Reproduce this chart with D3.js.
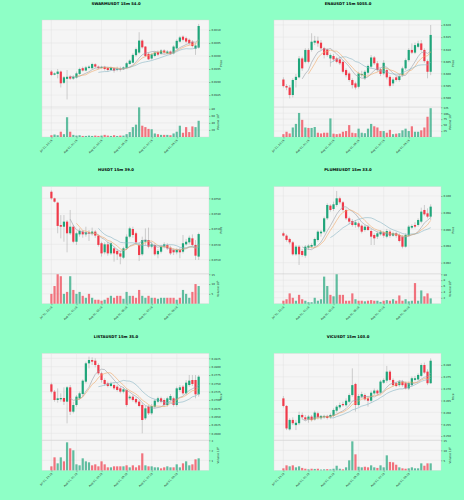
<!DOCTYPE html>
<html>
<head>
<meta charset="utf-8">
<script src="https://cdn.jsdelivr.net/npm/d3@7"></script>
<style>
body { margin: 0; background: #8effc6; }
svg { display: block; }
text { font-family: "DejaVu Sans", sans-serif; }
</style>
</head>
<body>
<script>
var titles = ["SWARMUSDT 15m 54.0", "ENAUSDT 15m 5055.0", "HUSDT 15m 39.0",
              "PLUMEUSDT 15m 33.0", "LISTAUSDT 15m 35.0", "VICUSDT 15m 103.0"];
var timeLabels = ["Jul 31, 23:15", "Aug 01, 01:15", "Aug 01, 03:15", "Aug 01, 05:15", "Aug 01, 07:15", "Aug 01, 09:15"];
var timeTickIndex = [0, 8, 16, 24, 32, 40];
var maPeriods = [7, 9, 16];

// candles: [open, high, low, close, volume]
var swarmCandles = [
[0.01940,0.01946,0.01923,0.01927,5],[0.01928,0.01937,0.01926,0.01933,7],[0.01931,0.01950,0.01914,0.01940,5],
[0.01940,0.01944,0.01879,0.01895,15],[0.01897,0.01923,0.01892,0.01918,8],[0.01912,0.01946,0.01833,0.01920,56],
[0.01921,0.01926,0.01908,0.01913,15],[0.01913,0.01926,0.01908,0.01920,6],[0.01917,0.01940,0.01913,0.01933,4],
[0.01931,0.01955,0.01927,0.01950,5],[0.01953,0.01959,0.01940,0.01944,3],[0.01944,0.01962,0.01941,0.01956,3],
[0.01954,0.01964,0.01950,0.01959,4],[0.01953,0.01974,0.01949,0.01969,3],[0.01968,0.01972,0.01954,0.01959,4],
[0.01959,0.01963,0.01949,0.01953,3],[0.01954,0.01962,0.01951,0.01958,4],[0.01958,0.01962,0.01944,0.01950,6],
[0.01954,0.01959,0.01940,0.01946,4],[0.01946,0.01959,0.01944,0.01955,3],[0.01953,0.01956,0.01936,0.01944,5],
[0.01946,0.01959,0.01941,0.01951,3],[0.01951,0.01959,0.01940,0.01947,4],[0.01949,0.01960,0.01946,0.01956,4],
[0.01954,0.01977,0.01951,0.01972,8],[0.01969,0.01987,0.01967,0.01982,14],[0.01974,0.02010,0.01972,0.02004,28],
[0.02003,0.02032,0.01997,0.02026,35],[0.02013,0.02091,0.02008,0.02059,84],[0.02059,0.02064,0.02028,0.02033,32],
[0.02036,0.02038,0.01995,0.02000,28],[0.02008,0.02013,0.01985,0.01987,23],[0.01990,0.02010,0.01986,0.02006,22],
[0.02000,0.02017,0.01995,0.02013,10],[0.02015,0.02021,0.01999,0.02005,8],[0.02008,0.02026,0.02004,0.02021,6],
[0.02021,0.02026,0.02008,0.02013,6],[0.02010,0.02023,0.02006,0.02017,6],[0.02017,0.02021,0.02004,0.02008,5],
[0.02010,0.02041,0.02006,0.02036,10],[0.02029,0.02064,0.02026,0.02058,15],[0.02055,0.02077,0.02051,0.02071,32],
[0.02074,0.02079,0.02056,0.02062,12],[0.02068,0.02074,0.02049,0.02055,28],[0.02062,0.02067,0.02042,0.02049,14],
[0.02055,0.02061,0.02033,0.02038,30],[0.02028,0.02051,0.02004,0.02040,28],[0.02032,0.02123,0.02028,0.02115,46]
];
var swarmPriceTicks = [0.0185, 0.0190, 0.0195, 0.0200, 0.0205, 0.0210];
var swarmPriceLimits = [0.01804, 0.02138];
var swarmVolumeTicks = [20, 40, 60, 80];
var swarmVolumeMax = 85;

var enaCandles = [
[0.5975,0.5984,0.5942,0.5948,12],[0.5948,0.5956,0.5931,0.5942,22],[0.5942,0.5952,0.5897,0.5911,15],
[0.5911,0.5980,0.5901,0.5973,40],[0.5973,0.5998,0.5942,0.5986,55],[0.5984,0.6072,0.5980,0.6062,101],
[0.6062,0.6069,0.6011,0.6021,72],[0.6048,0.6104,0.6042,0.6097,40],[0.6097,0.6104,0.6042,0.6048,38],
[0.6097,0.6166,0.6090,0.6131,38],[0.6127,0.6155,0.6117,0.6135,42],[0.6135,0.6152,0.6110,0.6124,18],
[0.6127,0.6138,0.6097,0.6104,15],[0.6104,0.6110,0.6062,0.6076,18],[0.6099,0.6104,0.6069,0.6076,18],
[0.6062,0.6083,0.6028,0.6076,78],[0.6072,0.6080,0.6048,0.6058,14],[0.6062,0.6069,0.6042,0.6048,12],
[0.6058,0.6066,0.6035,0.6042,14],[0.6048,0.6055,0.6000,0.6007,22],[0.6014,0.6021,0.5984,0.5993,25],
[0.6000,0.6007,0.5966,0.5973,50],[0.5973,0.5980,0.5938,0.5952,18],[0.5959,0.5966,0.5934,0.5942,16],
[0.5945,0.6007,0.5938,0.6000,35],[0.5993,0.6011,0.5986,0.5998,18],[0.5980,0.6014,0.5973,0.6007,16],
[0.6003,0.6037,0.5993,0.6031,35],[0.6028,0.6076,0.6021,0.6066,55],[0.6066,0.6072,0.6035,0.6042,45],
[0.6042,0.6051,0.6007,0.6014,40],[0.6017,0.6024,0.5989,0.5998,25],[0.6000,0.6055,0.5993,0.6044,25],
[0.6014,0.6021,0.5975,0.5984,18],[0.5986,0.5993,0.5942,0.5949,30],[0.5959,0.5984,0.5948,0.5975,12],
[0.5984,0.5989,0.5966,0.5973,14],[0.5973,0.5998,0.5966,0.5989,16],[0.5993,0.6028,0.5986,0.6021,28],
[0.6021,0.6062,0.6014,0.6055,35],[0.6055,0.6104,0.6048,0.6097,25],[0.6097,0.6124,0.6080,0.6086,45],
[0.6086,0.6127,0.6080,0.6117,22],[0.6110,0.6135,0.6104,0.6124,22],[0.6124,0.6138,0.6090,0.6097,28],
[0.6097,0.6104,0.6044,0.6051,40],[0.6051,0.6058,0.5980,0.6007,85],[0.6007,0.6200,0.5993,0.6159,121]
];
var enaPriceTicks = [0.590, 0.595, 0.600, 0.605, 0.610, 0.615, 0.620];
var enaPriceLimits = [0.58616, 0.62206];
var enaVolumeTicks = [25, 50, 75, 100, 125];
var enaVolumeMax = 126;

var hCandles = [
[0.07543,0.07552,0.07491,0.07500,5],[0.07500,0.07504,0.07472,0.07478,9],[0.07472,0.07478,0.07272,0.07320,15],
[0.07326,0.07391,0.07239,0.07315,14],[0.07315,0.07391,0.07217,0.07348,5],[0.07348,0.07359,0.07148,0.07272,6],
[0.07272,0.07424,0.07261,0.07315,14],[0.07315,0.07326,0.07207,0.07217,7],[0.07217,0.07283,0.07196,0.07272,5],
[0.07265,0.07304,0.07250,0.07287,6],[0.07283,0.07293,0.07243,0.07265,4],[0.07265,0.07315,0.07250,0.07278,3],
[0.07278,0.07293,0.07222,0.07270,5],[0.07270,0.07309,0.07257,0.07283,3],[0.07283,0.07293,0.07243,0.07257,2],
[0.07257,0.07265,0.07185,0.07196,2],[0.07207,0.07217,0.07120,0.07141,1.5],[0.07148,0.07213,0.07135,0.07200,2],
[0.07200,0.07217,0.07126,0.07141,3],[0.07141,0.07217,0.07130,0.07207,4],[0.07174,0.07185,0.07087,0.07141,3],
[0.07157,0.07170,0.07098,0.07135,4],[0.07141,0.07157,0.07070,0.07120,4],[0.07113,0.07185,0.07104,0.07174,2.5],
[0.07174,0.07265,0.07163,0.07250,6],[0.07250,0.07315,0.07239,0.07304,4],[0.07300,0.07315,0.07243,0.07261,4],
[0.07272,0.07283,0.07200,0.07213,3],[0.07196,0.07213,0.07091,0.07130,7],[0.07135,0.07250,0.07126,0.07228,4],
[0.07217,0.07304,0.07191,0.07228,3],[0.07228,0.07309,0.07174,0.07185,4],[0.07185,0.07217,0.07174,0.07200,3],
[0.07196,0.07207,0.07126,0.07135,3],[0.07135,0.07170,0.07109,0.07157,2.5],[0.07152,0.07196,0.07141,0.07185,3],
[0.07185,0.07213,0.07174,0.07200,3],[0.07196,0.07207,0.07163,0.07174,3],[0.07178,0.07191,0.07130,0.07141,3],
[0.07163,0.07174,0.07130,0.07148,3],[0.07148,0.07174,0.07135,0.07163,2],[0.07163,0.07178,0.07109,0.07148,3],
[0.07152,0.07261,0.07141,0.07207,7],[0.07200,0.07235,0.07191,0.07217,5],[0.07213,0.07257,0.07200,0.07243,3],
[0.07239,0.07265,0.07185,0.07196,6],[0.07196,0.07228,0.07098,0.07126,10],[0.07120,0.07276,0.07098,0.07267,9]
];
var hPriceTicks = [0.0710, 0.0720, 0.0730, 0.0740, 0.0750];
var hPriceLimits = [0.070087, 0.075761];
var hVolumeTicks = [5, 10, 15];
var hVolumeMax = 15.3;

var plumeCandles = [
[0.09552,0.09572,0.09512,0.09524,1.0],[0.09524,0.09540,0.09452,0.09472,1.5],[0.09484,0.09500,0.09420,0.09444,3.5],
[0.09444,0.09460,0.09284,0.09300,2.0],[0.09300,0.09412,0.09284,0.09392,1.0],[0.09392,0.09412,0.09172,0.09300,3.0],
[0.09340,0.09364,0.09272,0.09292,1.5],[0.09284,0.09412,0.09260,0.09392,1.0],[0.09380,0.09420,0.09352,0.09404,0.5],
[0.09392,0.09432,0.09372,0.09412,0.5],[0.09404,0.09500,0.09380,0.09484,2.0],[0.09472,0.09588,0.09452,0.09572,1.0],
[0.09552,0.09592,0.09512,0.09572,1.5],[0.09572,0.09752,0.09552,0.09732,9.2],[0.09732,0.09912,0.09712,0.09892,6.0],
[0.09884,0.09900,0.09812,0.09832,3.0],[0.09844,0.09932,0.09820,0.09900,2.5],[0.09892,0.10060,0.09872,0.09972,10.0],
[0.09972,0.09992,0.09900,0.09924,3.0],[0.09924,0.09940,0.09812,0.09832,3.0],[0.09832,0.09852,0.09712,0.09732,1.0],
[0.09732,0.09752,0.09660,0.09692,1.0],[0.09700,0.09724,0.09632,0.09652,3.5],[0.09652,0.09712,0.09620,0.09684,1.5],
[0.09672,0.09692,0.09612,0.09632,1.0],[0.09644,0.09660,0.09552,0.09572,1.0],[0.09592,0.09652,0.09572,0.09632,0.8],
[0.09632,0.09652,0.09580,0.09592,1.0],[0.09580,0.09604,0.09412,0.09512,1.2],[0.09532,0.09552,0.09412,0.09492,1.0],
[0.09512,0.09572,0.09484,0.09552,1.0],[0.09540,0.09592,0.09524,0.09572,0.6],[0.09564,0.09580,0.09500,0.09524,1.0],
[0.09512,0.09604,0.09492,0.09580,1.2],[0.09572,0.09592,0.09500,0.09524,1.0],[0.09524,0.09572,0.09512,0.09552,1.5],
[0.09552,0.09572,0.09500,0.09524,1.0],[0.09532,0.09552,0.09444,0.09460,2.8],[0.09512,0.09532,0.09372,0.09392,1.0],
[0.09392,0.09552,0.09380,0.09532,1.5],[0.09524,0.09652,0.09512,0.09632,0.8],[0.09620,0.09660,0.09604,0.09640,1.0],
[0.09652,0.09684,0.09612,0.09632,7.0],[0.09652,0.09732,0.09632,0.09712,1.0],[0.09692,0.09860,0.09672,0.09812,4.5],
[0.09832,0.09892,0.09764,0.09780,2.5],[0.09792,0.09852,0.09732,0.09752,3.5],[0.09752,0.09900,0.09712,0.09872,1.8]
];
var plumePriceTicks = [0.092, 0.094, 0.096, 0.098, 0.100];
var plumePriceLimits = [0.090681, 0.101116];
var plumeVolumeTicks = [2, 4, 6, 8, 10];
var plumeVolumeMax = 10.2;

var listaCandles = [
[0.2747,0.2752,0.2720,0.2725,0.4],[0.2725,0.2730,0.2695,0.2700,1.3],[0.2700,0.2735,0.2692,0.2705,0.7],
[0.2702,0.2720,0.2695,0.2706,1.3],[0.2706,0.2738,0.2685,0.2695,0.9],[0.2695,0.2742,0.2630,0.2738,2.8],
[0.2738,0.2745,0.2655,0.2665,2.2],[0.2665,0.2695,0.2660,0.2685,2.0],[0.2685,0.2715,0.2680,0.2710,0.6],
[0.2705,0.2725,0.2702,0.2720,0.5],[0.2718,0.2762,0.2712,0.2758,1.2],[0.2755,0.2815,0.2750,0.2810,0.9],
[0.2810,0.2830,0.2795,0.2820,0.8],[0.2820,0.2828,0.2805,0.2815,0.5],[0.2818,0.2825,0.2798,0.2805,0.6],
[0.2805,0.2810,0.2775,0.2780,0.4],[0.2780,0.2785,0.2752,0.2760,0.9],[0.2760,0.2765,0.2742,0.2748,0.6],
[0.2750,0.2755,0.2738,0.2742,0.3],[0.2742,0.2755,0.2738,0.2750,0.3],[0.2745,0.2750,0.2730,0.2735,0.4],
[0.2740,0.2745,0.2725,0.2730,0.4],[0.2735,0.2740,0.2720,0.2725,0.4],[0.2725,0.2738,0.2720,0.2732,0.4],
[0.2730,0.2735,0.2680,0.2685,0.5],[0.2705,0.2715,0.2700,0.2710,0.3],[0.2710,0.2715,0.2695,0.2700,0.5],
[0.2703,0.2708,0.2688,0.2693,0.3],[0.2695,0.2700,0.2678,0.2682,0.5],[0.2685,0.2690,0.2600,0.2640,1.7],
[0.2645,0.2682,0.2640,0.2675,0.5],[0.2680,0.2685,0.2655,0.2660,0.4],[0.2660,0.2688,0.2655,0.2682,0.4],
[0.2680,0.2702,0.2675,0.2698,0.3],[0.2695,0.2710,0.2690,0.2705,0.3],[0.2705,0.2710,0.2690,0.2695,0.2],
[0.2700,0.2705,0.2680,0.2685,0.3],[0.2685,0.2710,0.2680,0.2705,0.4],[0.2700,0.2718,0.2695,0.2712,0.3],
[0.2705,0.2710,0.2680,0.2685,0.3],[0.2685,0.2740,0.2680,0.2735,0.6],[0.2730,0.2745,0.2725,0.2738,0.3],
[0.2740,0.2745,0.2715,0.2720,0.7],[0.2720,0.2760,0.2715,0.2752,0.9],[0.2745,0.2775,0.2740,0.2758,0.5],
[0.2760,0.2775,0.2742,0.2748,0.6],[0.2760,0.2775,0.2705,0.2717,1.1],[0.2717,0.2775,0.2710,0.2770,1.2]
];
var listaPriceTicks = [0.2600, 0.2625, 0.2650, 0.2675, 0.2700, 0.2725, 0.2750, 0.2775, 0.2800, 0.2825];
var listaPriceLimits = [0.2579, 0.2840];
var listaVolumeTicks = [1, 2, 3];
var listaVolumeMax = 3.0;

var vicCandles = [
[0.2659,0.2669,0.2621,0.2627,1.0],[0.2627,0.2631,0.2525,0.2532,2.5],[0.2528,0.2575,0.2523,0.2568,2.0],
[0.2568,0.2579,0.2546,0.2554,2.5],[0.2546,0.2568,0.2525,0.2556,1.5],[0.2554,0.2603,0.2546,0.2589,2.0],
[0.2589,0.2599,0.2570,0.2579,1.2],[0.2579,0.2589,0.2565,0.2570,0.8],[0.2570,0.2589,0.2556,0.2582,0.5],
[0.2582,0.2589,0.2561,0.2568,0.8],[0.2570,0.2607,0.2565,0.2599,0.7],[0.2596,0.2603,0.2570,0.2579,0.8],
[0.2575,0.2589,0.2568,0.2585,0.4],[0.2579,0.2590,0.2573,0.2585,0.5],[0.2585,0.2590,0.2570,0.2576,0.6],
[0.2579,0.2596,0.2573,0.2589,0.5],[0.2585,0.2617,0.2579,0.2610,0.8],[0.2607,0.2631,0.2599,0.2624,2.3],
[0.2621,0.2641,0.2613,0.2631,0.8],[0.2635,0.2645,0.2624,0.2630,0.5],[0.2630,0.2659,0.2624,0.2649,1.5],
[0.2645,0.2680,0.2638,0.2673,5.0],[0.2673,0.2786,0.2666,0.2715,14.5],[0.2720,0.2725,0.2603,0.2631,8.0],
[0.2631,0.2677,0.2624,0.2669,1.8],[0.2666,0.2687,0.2659,0.2677,1.5],[0.2673,0.2680,0.2649,0.2655,1.8],
[0.2659,0.2669,0.2624,0.2649,1.5],[0.2649,0.2692,0.2641,0.2683,2.5],[0.2680,0.2701,0.2673,0.2692,1.5],
[0.2692,0.2697,0.2673,0.2680,1.2],[0.2683,0.2737,0.2677,0.2730,2.5],[0.2725,0.2744,0.2720,0.2737,1.5],
[0.2734,0.2796,0.2725,0.2772,7.5],[0.2772,0.2779,0.2730,0.2737,4.2],[0.2737,0.2744,0.2708,0.2715,4.0],
[0.2723,0.2730,0.2706,0.2711,2.8],[0.2715,0.2737,0.2708,0.2730,1.5],[0.2730,0.2737,0.2708,0.2715,1.0],
[0.2723,0.2730,0.2697,0.2701,0.8],[0.2701,0.2730,0.2694,0.2723,1.0],[0.2715,0.2751,0.2708,0.2744,1.5],
[0.2737,0.2754,0.2730,0.2744,1.0],[0.2739,0.2765,0.2734,0.2758,1.0],[0.2754,0.2807,0.2748,0.2800,3.5],
[0.2800,0.2810,0.2762,0.2768,2.3],[0.2772,0.2782,0.2715,0.2723,3.5],[0.2723,0.2828,0.2720,0.2818,3.5]
];
var vicPriceTicks = [0.250, 0.255, 0.260, 0.265, 0.270, 0.275, 0.280];
var vicPriceLimits = [0.24817, 0.28493];
var vicVolumeTicks = [5, 10, 15];
var vicVolumeMax = 15;

var volumeExponents = ["5", "5", "6", "6", "6", "5"];
var priceFormats = [".4f", ".3f", ".4f", ".3f", ".4f", ".3f"];

var charts = [
    {candles: swarmCandles, pTicks: swarmPriceTicks, pLim: swarmPriceLimits, vTicks: swarmVolumeTicks, vMax: swarmVolumeMax},
    {candles: enaCandles, pTicks: enaPriceTicks, pLim: enaPriceLimits, vTicks: enaVolumeTicks, vMax: enaVolumeMax},
    {candles: hCandles, pTicks: hPriceTicks, pLim: hPriceLimits, vTicks: hVolumeTicks, vMax: hVolumeMax},
    {candles: plumeCandles, pTicks: plumePriceTicks, pLim: plumePriceLimits, vTicks: plumeVolumeTicks, vMax: plumeVolumeMax},
    {candles: listaCandles, pTicks: listaPriceTicks, pLim: listaPriceLimits, vTicks: listaVolumeTicks, vMax: listaVolumeMax},
    {candles: vicCandles, pTicks: vicPriceTicks, pLim: vicPriceLimits, vTicks: vicVolumeTicks, vMax: vicVolumeMax}
];

var upColor = "#1fa57a", downColor = "#f03a4a", wickColor = "#a3a3a3";
var maColors = ["#9aa0a8", "#f0a868", "#88b6c4"];
var gridColor = "#e1e1e1";

var W = 464, H = 500;
var cellW = W / 2, cellH = H / 3;
// plot box inside each cell
var boxLeft = 42, boxRight = 209, boxTop = 20, boxSplit = 107, boxBottom = 137;

var svg = d3.select("body").append("svg")
    .attr("width", W)
    .attr("height", H);

function movingAverage(closes, n) {
    return closes.map(function (d, i) {
        if (i < n - 1) return null;
        return d3.mean(closes.slice(i - n + 1, i + 1));
    });
}

function styleAxis(a) {
    a.select(".domain").remove();
    a.selectAll(".tick line").attr("stroke", "#555").attr("stroke-width", 0.4);
    a.selectAll("text").attr("font-size", 2.6).attr("fill", "#222")
        .attr("font-family", "DejaVu Sans, sans-serif");
}

function drawChart(g, c, k) {
    var x = d3.scaleLinear().domain([-3, 50.3]).range([boxLeft, boxRight]);
    var y = d3.scaleLinear().domain(c.pLim).range([boxSplit, boxTop]);
    var v = d3.scaleLinear().domain([0, c.vMax]).range([boxBottom, boxSplit]);
    var bw = (x(1) - x(0)) * 0.7;

    g.append("rect")
        .attr("x", boxLeft).attr("y", boxTop)
        .attr("width", boxRight - boxLeft).attr("height", boxBottom - boxTop)
        .attr("fill", "#f5f5f5")
        .attr("stroke", "#d6d6d6").attr("stroke-width", 0.4);

    // grid
    g.selectAll(".vgrid").data(timeTickIndex).enter().append("line")
        .attr("x1", function (d) { return x(d); }).attr("x2", function (d) { return x(d); })
        .attr("y1", boxTop).attr("y2", boxBottom)
        .attr("stroke", gridColor).attr("stroke-width", 0.4);
    g.selectAll(".pgrid").data(c.pTicks).enter().append("line")
        .attr("x1", boxLeft).attr("x2", boxRight)
        .attr("y1", function (d) { return y(d); }).attr("y2", function (d) { return y(d); })
        .attr("stroke", gridColor).attr("stroke-width", 0.4);
    g.selectAll(".vgrid2").data(c.vTicks).enter().append("line")
        .attr("x1", boxLeft).attr("x2", boxRight)
        .attr("y1", function (d) { return v(d); }).attr("y2", function (d) { return v(d); })
        .attr("stroke", gridColor).attr("stroke-width", 0.4);
    g.append("line")
        .attr("x1", boxLeft).attr("x2", boxRight).attr("y1", boxSplit).attr("y2", boxSplit)
        .attr("stroke", "#c9c9c9").attr("stroke-width", 0.4);

    // volume bars
    g.selectAll(".vol").data(c.candles).enter().append("rect")
        .attr("x", function (d, i) { return x(i) - bw / 2; })
        .attr("y", function (d) { return v(d[4]); })
        .attr("width", bw)
        .attr("height", function (d) { return boxBottom - v(d[4]); })
        .attr("fill", function (d) { return d[3] >= d[0] ? upColor : downColor; })
        .attr("fill-opacity", 0.7);

    // wicks
    g.selectAll(".wick").data(c.candles).enter().append("line")
        .attr("x1", function (d, i) { return x(i); }).attr("x2", function (d, i) { return x(i); })
        .attr("y1", function (d) { return y(d[1]); }).attr("y2", function (d) { return y(d[2]); })
        .attr("stroke", wickColor).attr("stroke-width", 0.5);

    // bodies
    g.selectAll(".body").data(c.candles).enter().append("rect")
        .attr("x", function (d, i) { return x(i) - bw / 2; })
        .attr("y", function (d) { return y(Math.max(d[0], d[3])); })
        .attr("width", bw)
        .attr("height", function (d) { return Math.max(0.4, Math.abs(y(d[0]) - y(d[3]))); })
        .attr("fill", function (d) { return d[3] >= d[0] ? upColor : downColor; });

    // moving averages
    var closes = c.candles.map(function (d) { return d[3]; });
    var line = d3.line()
        .defined(function (d) { return d != null; })
        .x(function (d, i) { return x(i); })
        .y(function (d) { return y(d); });
    maPeriods.forEach(function (n, j) {
        g.append("path")
            .datum(movingAverage(closes, n))
            .attr("d", line)
            .attr("fill", "none")
            .attr("stroke", maColors[j])
            .attr("stroke-width", 0.6);
    });

    // axes
    var pa = g.append("g").attr("transform", "translate(" + boxRight + ",0)")
        .call(d3.axisRight(y).tickValues(c.pTicks).tickFormat(d3.format(priceFormats[k])).tickSize(1.5).tickPadding(1));
    styleAxis(pa);
    var va = g.append("g").attr("transform", "translate(" + boxRight + ",0)")
        .call(d3.axisRight(v).tickValues(c.vTicks).tickFormat(d3.format("d")).tickSize(1.5).tickPadding(1));
    styleAxis(va);
    var xa = g.append("g").attr("transform", "translate(0," + boxBottom + ")")
        .call(d3.axisBottom(x).tickValues(timeTickIndex)
            .tickFormat(function (d, i) { return timeLabels[i]; }).tickSize(1.5));
    styleAxis(xa);
    xa.selectAll("text")
        .attr("x", 0).attr("y", 0).attr("dy", "0.35em")
        .attr("transform", "translate(0,3) rotate(-45)")
        .style("text-anchor", "end");

    // labels
    g.append("text")
        .attr("transform", "translate(222," + ((boxTop + boxSplit) / 2) + ") rotate(-90)")
        .attr("text-anchor", "middle")
        .attr("font-size", 2.8).attr("fill", "#222")
        .text("Price");
    var vl = g.append("text")
        .attr("transform", "translate(218.5," + ((boxSplit + boxBottom) / 2) + ") rotate(-90)")
        .attr("text-anchor", "middle")
        .attr("font-size", 2.8).attr("fill", "#222");
    vl.append("tspan").text("Volume  10");
    vl.append("tspan").attr("font-size", 2).attr("dy", -1).text(volumeExponents[k]);

    g.append("text")
        .attr("x", cellW / 2).attr("y", 4.6)
        .attr("text-anchor", "middle")
        .attr("font-size", 3.8).attr("font-weight", "bold").attr("fill", "#000")
        .text(titles[k]);
}

charts.forEach(function (c, k) {
    var col = k % 2, row = Math.floor(k / 2);
    var g = svg.append("g")
        .attr("transform", "translate(" + (col * cellW) + "," + (row * cellH) + ")");
    drawChart(g, c, k);
});
</script>
</body>
</html>
